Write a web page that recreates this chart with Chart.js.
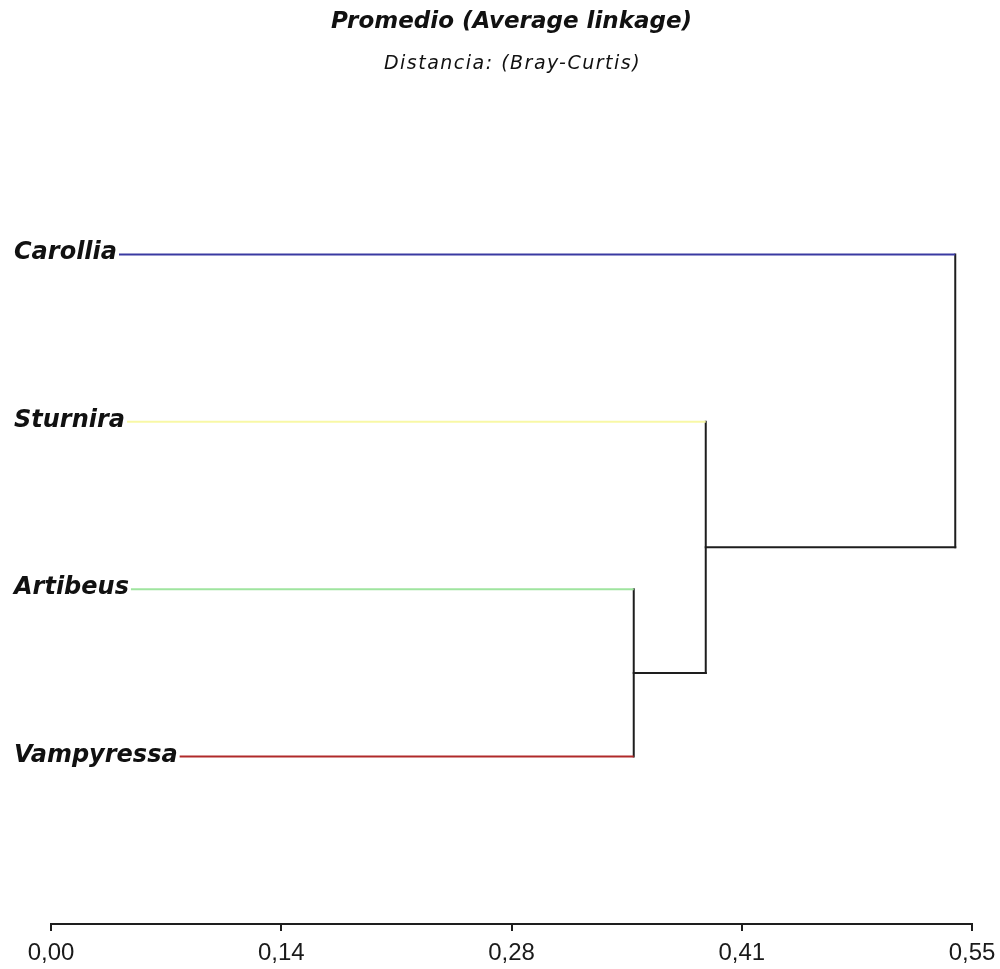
<!DOCTYPE html>
<html>
<head>
<meta charset="utf-8">
<title>Promedio (Average linkage)</title>
<script src="https://cdn.jsdelivr.net/npm/chart.js@4.4.1/dist/chart.umd.min.js"></script>
<style>
  html, body { margin: 0; padding: 0; background: #ffffff; }
  #wrap { width: 1000px; height: 969px; }
</style>
</head>
<body>
<div id="wrap"><canvas id="dendro"></canvas></div>
<script>
// Leaves, top to bottom
const leafNames = ['Carollia', 'Sturnira', 'Artibeus', 'Vampyressa'];
const leafColors = ['#3a3aa2', '#f8f8a6', '#9fe49f', '#b02a2a'];

// Merges: node ids 0..3 are leaves, each merge creates node 4, 5, 6 ...
const mergeLeft = [2, 1, 0];
const mergeRight = [3, 4, 5];
const mergeHeights = [0.348, 0.391, 0.540];

// Distance axis
const tickValues = [0, 0.1375, 0.275, 0.4125, 0.55];
const tickLabels = ['0,00', '0,14', '0,28', '0,41', '0,55'];

const titleText = 'Promedio (Average linkage)';
const subtitleText = 'Distancia: (Bray-Curtis)';

// ---- build the tree geometry from the merge table ----
const nLeaves = leafNames.length;
const nodeY = leafNames.map((_, i) => i + 1);
const nodeH = leafNames.map(() => 0);
const parentOf = [];
mergeHeights.forEach((h, k) => {
  const id = nLeaves + k;
  const a = mergeLeft[k], b = mergeRight[k];
  nodeY[id] = (nodeY[a] + nodeY[b]) / 2;
  nodeH[id] = h;
  parentOf[a] = id;
  parentOf[b] = id;
});

const treeColor = '#1e1e1e';
const datasets = [];

// coloured leaf branches
leafNames.forEach((name, i) => {
  datasets.push({
    label: name,
    data: [{ x: 0, y: nodeY[i] }, { x: nodeH[parentOf[i]], y: nodeY[i] }],
    borderColor: leafColors[i],
    borderWidth: 2,
    borderCapStyle: 'butt'
  });
});

// black links: vertical bar per merge and connector up to the parent merge
mergeHeights.forEach((h, k) => {
  const id = nLeaves + k;
  datasets.push({
    label: 'v' + id,
    data: [{ x: h, y: nodeY[mergeLeft[k]] }, { x: h, y: nodeY[mergeRight[k]] }],
    borderColor: treeColor,
    borderWidth: 2,
    borderCapStyle: 'square'
  });
  if (parentOf[id] !== undefined) {
    datasets.push({
      label: 'h' + id,
      data: [{ x: h, y: nodeY[id] }, { x: nodeH[parentOf[id]], y: nodeY[id] }],
      borderColor: treeColor,
      borderWidth: 2,
      borderCapStyle: 'square'
    });
  }
});

datasets.forEach(d => {
  d.showLine = true;
  d.pointRadius = 0;
  d.pointHoverRadius = 0;
  d.fill = false;
  d.tension = 0;
});

// titles and leaf names drawn on the canvas
const textPlugin = {
  id: 'dendroText',
  afterDatasetsDraw(chart) {
    const ctx = chart.ctx;
    const area = chart.chartArea;
    const ys = chart.scales.y;
    const cx = (area.left + area.right) / 2;
    ctx.save();
    ctx.textAlign = 'center';
    ctx.textBaseline = 'alphabetic';
    ctx.fillStyle = '#111111';
    ctx.font = 'italic bold 23px "DejaVu Sans"';
    ctx.fillText(titleText, cx, 28);
    ctx.font = 'italic 19px "DejaVu Sans"';
    ctx.letterSpacing = '1.5px';
    ctx.fillText(subtitleText, cx + 1, 69);
    ctx.letterSpacing = '0px';

    ctx.textAlign = 'left';
    ctx.font = 'italic bold 24px "DejaVu Sans"';
    leafNames.forEach((name, i) => {
      const py = ys.getPixelForValue(nodeY[i]);
      const w = ctx.measureText(name).width;
      ctx.fillStyle = '#ffffff';
      ctx.fillRect(0, py - 24, 15 + w + 1, 34);
      ctx.fillStyle = '#111111';
      ctx.fillText(name, 14, py + 5);
    });
    ctx.restore();
  }
};

new Chart(document.getElementById('dendro'), {
  type: 'scatter',
  data: { datasets },
  options: {
    responsive: true,
    maintainAspectRatio: false,
    animation: false,
    events: [],
    layout: { padding: { top: 87, left: 51, right: 28, bottom: 0 } },
    plugins: {
      legend: { display: false },
      tooltip: { enabled: false },
      title: { display: false }
    },
    scales: {
      x: {
        type: 'linear',
        min: tickValues[0],
        max: tickValues[tickValues.length - 1],
        afterBuildTicks(scale) {
          scale.ticks = tickValues.map(v => ({ value: v }));
        },
        afterFit(scale) {
          scale.height = 45;
          scale.paddingLeft = 0;
          scale.paddingRight = 0;
        },
        grid: {
          display: true,
          drawOnChartArea: false,
          drawTicks: true,
          tickLength: 7,
          color: treeColor,
          lineWidth: 2
        },
        border: { display: true, color: treeColor, width: 2 },
        ticks: {
          autoSkip: false,
          maxRotation: 0,
          padding: 8,
          color: '#1a1a1a',
          font: { family: 'Arial, "Liberation Sans"', size: 24, lineHeight: 1.2 },
          callback: (v, i) => tickLabels[i]
        }
      },
      y: {
        type: 'linear',
        display: false,
        reverse: true,
        min: 0,
        max: nLeaves + 1
      }
    }
  },
  plugins: [textPlugin]
});
</script>
</body>
</html>
